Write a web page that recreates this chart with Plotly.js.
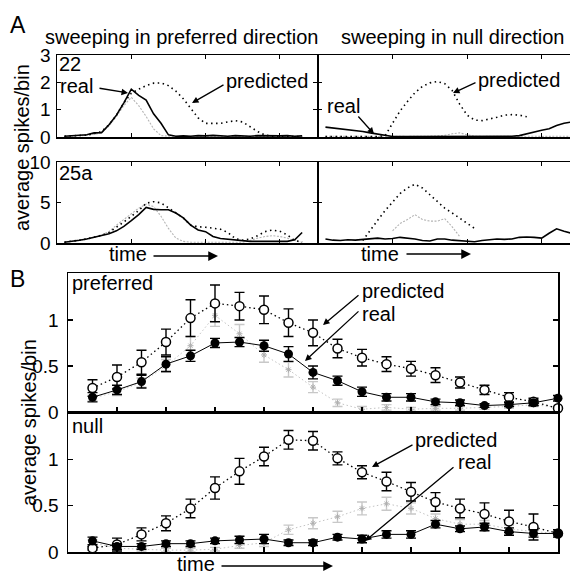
<!DOCTYPE html>
<html><head><meta charset="utf-8">
<script src="https://cdn.plot.ly/plotly-3.0.1.min.js"></script>
<style>html,body{margin:0;padding:0;background:#fff}#chart{width:570px;height:575px}</style>
</head><body><div id="chart"></div>
<script>
// ---------- Panel A data (bins 0..34) ----------
const binsA = Array.from({length:35},(_,i)=>i);
const prefReal22 = [null,0.03,0.05,0.05,0.08,0.15,0.16,0.45,0.8,1.25,1.75,1.52,1.35,0.85,0.5,0.08,0.03,0.04,0.03,0.05,0.04,0.06,0.04,0.03,0.05,0.04,0.03,0.05,0.04,0.03,0.04,0.05,0.03,0.04,null];
const prefPred22 = [null,0.03,0.05,0.05,0.07,0.12,0.2,0.45,0.8,1.25,1.6,1.75,1.88,1.97,1.98,1.88,1.68,1.4,1.05,0.7,0.5,0.5,0.5,0.55,0.6,0.55,0.38,0.2,0.07,0.03,0.02,0.02,0.02,0.02,null];
const prefGray22 = [null,0.02,0.03,0.04,0.06,0.1,0.15,0.4,0.75,1.15,1.45,1.15,0.75,0.3,0.05,0.03,0.03,0.02,0.03,0.03,0.02,0.03,0.03,0.02,0.03,0.02,0.03,0.03,0.02,0.03,0.02,0.03,0.03,0.02,null];
const nullReal22 = [null,0.36,0.33,0.3,0.26,0.23,0.2,0.15,0.1,0.05,0.02,0.02,0.02,0.02,0.02,0.02,0.02,0.02,0.02,0.03,0.02,0.02,0.02,0.02,0.02,0.02,0.03,0.05,0.12,0.18,0.25,0.3,0.42,0.5,0.55];
const nullPred22 = [null,0.02,0.02,0.02,0.02,0.02,0.02,0.02,0.02,0.05,0.5,0.95,1.3,1.62,1.85,1.98,2.03,1.95,1.7,1.2,0.8,0.62,0.6,0.65,0.72,0.8,0.82,0.8,0.74,null,null,null,null,null,null];
const nullGray22 = [null,0.03,0.02,0.03,0.02,0.03,0.02,0.03,0.02,0.03,0.02,0.03,0.02,0.03,0.02,0.03,0.04,0.06,0.12,0.15,0.08,0.03,0.02,0.03,0.02,0.03,0.02,0.03,0.02,0.03,0.02,0.03,0.02,0.03,0.02];
const prefReal25 = [null,0.1,0.2,0.35,0.5,0.7,0.9,1.15,1.5,2.05,2.75,3.5,4.4,4.15,4.1,4.1,3.7,3.1,2.2,1.6,1.4,0.8,0.55,0.45,0.35,0.28,0.2,0.2,0.2,0.2,0.2,0.2,0.4,1.3,null];
const prefPred25 = [null,0.1,0.2,0.35,0.5,0.7,0.95,1.3,1.9,2.6,3.3,4.0,4.9,5.1,4.95,4.3,3.7,3.1,2.2,2.0,1.95,1.85,1.7,1.3,0.55,0.35,0.5,0.9,1.4,1.6,1.45,1.0,0.3,0.1,null];
const prefGray25 = [null,0.1,0.2,0.3,0.5,0.7,1.0,1.4,2.2,2.9,3.7,4.3,4.8,4.5,3.3,1.8,0.6,0.2,0.1,0.1,0.1,0.1,0.1,0.1,0.1,0.1,0.3,0.6,0.8,0.9,0.8,0.6,0.3,0.1,null];
const nullReal25 = [null,0.5,0.35,0.3,0.4,0.35,0.45,0.5,0.6,0.5,0.55,0.7,0.6,0.5,0.3,0.25,0.5,0.5,0.35,0.3,0.2,0.15,0.3,0.4,0.5,0.45,0.5,0.7,0.75,0.7,0.6,1.2,1.75,1.45,1.2];
const nullPred25 = [null,null,null,null,null,null,0.3,1.6,2.8,4.0,5.1,6.1,6.8,7.25,6.8,6.0,5.2,4.3,3.7,3.1,2.4,1.8,null,null,null,null,null,null,null,null,null,null,null,null,null];
const nullGray25 = [null,null,null,null,null,null,null,null,null,null,1.5,2.4,2.9,3.5,2.9,2.7,2.7,3.0,2.0,0.8,null,null,null,null,null,null,null,null,null,null,null,null,null,null,null];

// ---------- Panel B data (points 1..20) ----------
const ptsB = Array.from({length:20},(_,i)=>i+1);
const prefPred = [0.26,0.38,0.54,0.76,1.02,1.18,1.15,1.11,0.97,0.86,0.69,0.59,0.52,0.47,0.40,0.32,0.24,0.16,0.11,0.04];
const prefPredErr = [0.09,0.13,0.13,0.14,0.2,0.2,0.15,0.15,0.15,0.14,0.1,0.09,0.08,0.08,0.08,0.06,0.05,0.05,0.04,0.0];
const prefReal = [0.16,0.24,0.33,0.52,0.61,0.75,0.76,0.72,0.63,0.43,0.34,0.22,0.16,0.16,0.11,0.10,0.07,0.08,0.10,0.15];
const prefRealErr = [0.05,0.05,0.07,0.08,0.06,0.05,0.05,0.06,0.08,0.07,0.05,0.05,0.04,0.04,0.03,0.03,0.02,0.02,0.03,0.03];
const prefGray = [0.15,0.22,0.32,0.5,0.72,1.05,0.85,0.62,0.46,0.27,0.1,0.03,0.05,0.03,0.04,0.04,0.05,0.06,0.08,0.05];
const prefGrayErr = [0.03,0.04,0.05,0.07,0.1,0.12,0.1,0.08,0.08,0.06,0.04,0.03,0.03,0.02,0.02,0.02,0.02,0.02,0.02,0.02];
const nullPred = [0.04,0.08,0.19,0.31,0.47,0.69,0.87,1.03,1.21,1.20,1.01,0.86,0.76,0.65,0.54,0.47,0.41,0.33,0.27,0.20];
const nullPredErr = [0.02,0.07,0.07,0.08,0.1,0.12,0.14,0.1,0.1,0.1,0.07,0.07,0.1,0.1,0.1,0.1,0.12,0.12,0.14,0.0];
const nullReal = [0.12,0.06,0.06,0.09,0.09,0.12,0.13,0.14,0.10,0.10,0.16,0.14,0.19,0.19,0.30,0.25,0.27,0.22,0.20,0.20];
const nullRealErr = [0.04,0.03,0.03,0.03,0.03,0.03,0.04,0.05,0.03,0.03,0.03,0.04,0.04,0.04,0.04,0.03,0.04,0.04,0.04,0.04];
const nullGray = [0.1,0.04,0.03,0.02,0.02,0.03,0.07,0.1,0.24,0.31,0.38,0.47,0.52,0.47,0.36,0.3,0.3,0.25,0.22,0.2];
const nullGrayErr = [0.03,0.03,0.02,0.02,0.02,0.02,0.03,0.04,0.05,0.06,0.06,0.07,0.07,0.06,0.05,0.05,0.04,0.04,0.04,0.04];

// ---------- helpers ----------
const W=570,H=575;
const fx=p=>p/W, fy=p=>1-p/H;
const FONT='Liberation Sans, Arial, Helvetica, sans-serif';
const lineReal={color:'#000',width:1.6};
const linePred={color:'#000',width:1.6,dash:'1.5px,3.5px'};
const lineGray={color:'#b4b4b4',width:1.1,dash:'2px,1.5px'};

const traces=[];
function addA(xa,ya,gray,pred,real){
  traces.push({x:binsA,y:gray,xaxis:xa,yaxis:ya,mode:'lines',line:lineGray,hoverinfo:'skip'});
  traces.push({x:binsA,y:pred,xaxis:xa,yaxis:ya,mode:'lines',line:linePred,hoverinfo:'skip'});
  traces.push({x:binsA,y:real,xaxis:xa,yaxis:ya,mode:'lines',line:lineReal,hoverinfo:'skip'});
}
addA('x','y',prefGray22,prefPred22,prefReal22);
addA('x2','y2',nullGray22,nullPred22,nullReal22);
addA('x3','y3',prefGray25,prefPred25,prefReal25);
addA('x4','y4',nullGray25,nullPred25,nullReal25);

function errb(arr,color){return {type:'data',array:arr,visible:true,color:color,thickness:1.4,width:5};}
function addB(xa,ya,gray,grayE,pred,predE,real,realE){
  traces.push({x:ptsB,y:gray,xaxis:xa,yaxis:ya,mode:'lines+markers',cliponaxis:false,
    line:{color:'#c4c4c4',width:1,dash:'1.5px,2.5px'},
    marker:{symbol:'asterisk-open',size:5,color:'#b0b0b0',line:{color:'#b0b0b0',width:1}},
    error_y:errb(grayE,'#c8c8c8')});
  traces.push({x:ptsB,y:pred,xaxis:xa,yaxis:ya,mode:'lines+markers',cliponaxis:false,
    line:{color:'#000',width:1.3,dash:'1.5px,3px'},
    marker:{symbol:'circle',size:9,color:'#fff',line:{color:'#000',width:1.5}},
    error_y:errb(predE,'#000')});
  traces.push({x:ptsB,y:real,xaxis:xa,yaxis:ya,mode:'lines+markers',cliponaxis:false,
    line:{color:'#000',width:1},
    marker:{symbol:'circle',size:9,color:'#000'},
    error_y:errb(realE,'#000')});
}
addB('x5','y5',prefGray,prefGrayErr,prefPred,prefPredErr,prefReal,prefRealErr);
addB('x6','y6',nullGray,nullGrayErr,nullPred,nullPredErr,nullReal,nullRealErr);

const base={showgrid:false,zeroline:false,showline:true,linecolor:'#000',linewidth:1.5,
  ticks:'inside',tickcolor:'#000',tickwidth:1.2,fixedrange:true,
  tickfont:{family:FONT,size:19,color:'#000'}};
function ax(o){return Object.assign({},base,o);}

const layout={
  width:W,height:H,margin:{l:0,r:0,t:0,b:0},showlegend:false,
  paper_bgcolor:'#fff',plot_bgcolor:'rgba(0,0,0,0)',
  font:{family:FONT,color:'#000'},
  xaxis: ax({domain:[fx(57),fx(317)],range:[0,35],anchor:'y',mirror:'ticks',tickvals:[10,20,30],ticklen:4,showticklabels:false}),
  yaxis: ax({domain:[fy(137),fy(55)],range:[0,3],anchor:'x',mirror:'ticks',tickvals:[0,1,2,3],ticklen:4,ticklabelstandoff:1}),
  xaxis2:ax({domain:[fx(318),1],range:[0,33.8],anchor:'y2',mirror:'ticks',tickvals:[10,20,30],ticklen:4,showticklabels:false}),
  yaxis2:ax({domain:[fy(137),fy(55)],range:[0,3],anchor:'x2',tickvals:[1,2],ticklen:4,showticklabels:false}),
  xaxis3:ax({domain:[fx(57),fx(317)],range:[0,35],anchor:'y3',mirror:'ticks',tickvals:[10,20,30],ticklen:4,showticklabels:false}),
  yaxis3:ax({domain:[fy(243),fy(162)],range:[0,10],anchor:'x3',mirror:'ticks',tickvals:[0,5,10],ticklen:4,ticklabelstandoff:1}),
  xaxis4:ax({domain:[fx(318),1],range:[0,33.8],anchor:'y4',mirror:'ticks',tickvals:[10,20,30],ticklen:4,showticklabels:false}),
  yaxis4:ax({domain:[fy(243),fy(162)],range:[0,10],anchor:'x4',tickvals:[5,10],ticklen:4,showticklabels:false}),
  xaxis5:ax({domain:[fx(68),fx(558)],range:[0,20],anchor:'y5',mirror:true,tickvals:[2,4,6,8,10,12,14,16,18],ticklen:5,showticklabels:false}),
  yaxis5:ax({domain:[fy(412),fy(273)],range:[0,1.51],anchor:'x5',mirror:'ticks',tickvals:[0,0.5,1],ticktext:['0','0.5','1'],ticklen:5,ticklabelstandoff:4}),
  xaxis6:ax({domain:[fx(68),fx(558)],range:[0,20],anchor:'y6',mirror:true,tickvals:[2,4,6,8,10,12,14,16,18],ticklen:5,showticklabels:false}),
  yaxis6:ax({domain:[fy(552),fy(412)],range:[0,1.51],anchor:'x6',mirror:'ticks',tickvals:[0,0.5,1],ticktext:['0','0.5','1'],ticklen:5,ticklabelstandoff:4}),
  annotations:[]
};

function txt(t,x,y,size,xanchor,extra){
  layout.annotations.push(Object.assign({text:t,x:fx(x),y:fy(y),xref:'paper',yref:'paper',
    xanchor:xanchor||'left',yanchor:'middle',showarrow:false,borderpad:0,
    font:{family:FONT,size:size,color:'#000'}},extra||{}));
}
function arrow(hx,hy,tx,ty,size){
  layout.annotations.push({text:'',x:fx(hx),y:fy(hy),xref:'paper',yref:'paper',
    ax:tx-hx,ay:ty-hy,axref:'pixel',ayref:'pixel',showarrow:true,
    arrowhead:2,arrowsize:size||1,arrowwidth:1.3,arrowcolor:'#000',standoff:0,startstandoff:0});
}
// panel letters & titles
txt('A',9,25,23);
txt('B',9,279,23);
txt('sweeping in preferred direction',182,37,20,'center');
txt('sweeping in null direction',452,37,20,'center');
txt('average spikes/bin',22,148,20,'center',{textangle:-90});
txt('average spikes/bin',29,423,20,'center',{textangle:-90});
// Panel A labels
txt('22',58,64,20);
txt('real',59,86,20);
txt('predicted',225,81,20);
arrow(128,93,98,88,1);
arrow(192,103,225,84,1);
txt('predicted',477,80,20);
txt('real',326,106,20);
arrow(453,93,477,82,1);
arrow(374,134,357,115,1);
txt('25a',58,173,20);
txt('time',108,254,20);
arrow(218,256,152,256,1.5);
txt('time',360,254,20);
arrow(471,254,405,254,1.5);
// Panel B labels
txt('preferred',71,283,20);
txt('predicted',361,290.5,20);
txt('real',361,313.5,20);
arrow(323,325,360,294,1);
arrow(305,361,360,310,1);
txt('null',71,426,20);
txt('predicted',414,440,20);
txt('real',457,462,20);
arrow(372,467,414,444,1);
arrow(365,541,455,466,1);
txt('time',176,564,20);
arrow(333,566,220,566,1.5);

Plotly.newPlot('chart',traces,layout,{staticPlot:true,displayModeBar:false});
</script></body></html>
